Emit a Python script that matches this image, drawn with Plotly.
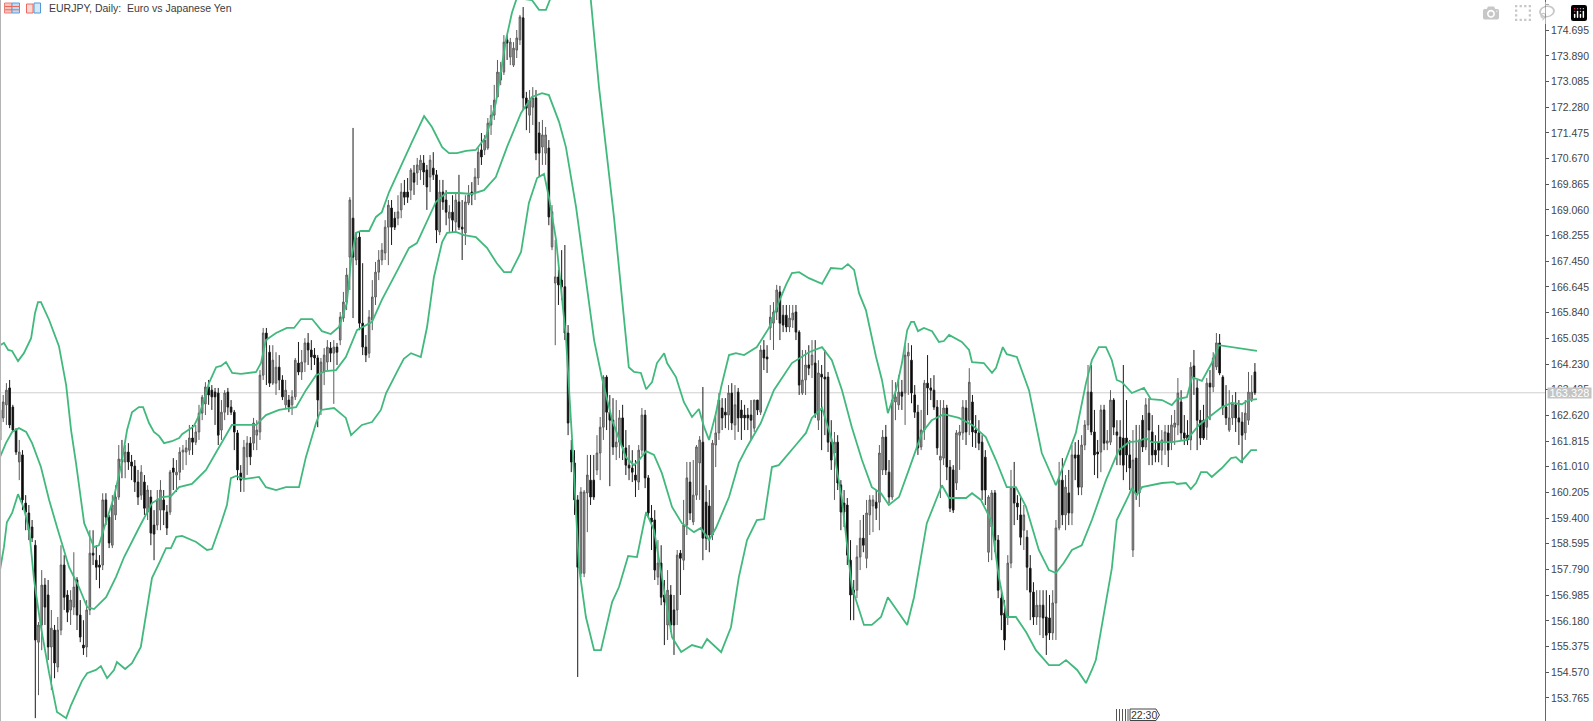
import plotly.graph_objects as go

# Chart geometry of the terminal window
WIDTH, HEIGHT = 1593, 721
PLOT_W = 1545
BAR_PITCH = 0.98  # spacing of the daily bars on the time axis

title_text = "EURJPY, Daily:\u00a0\u00a0Euro vs Japanese Yen"
last_price = 163.328
time_label = "22:30"

tick_labels = ["175.500", "174.695", "173.890", "173.085", "172.280", "171.475", "170.670",
               "169.865", "169.060", "168.255", "167.450", "166.645", "165.840", "165.035",
               "164.230", "163.425", "162.620", "161.815", "161.010", "160.205", "159.400",
               "158.595", "157.790", "156.985", "156.180", "155.375", "154.570", "153.765"]

# Daily candles: (open, high, low, close)
bars_a = [
    (162.79,162.95,161.69,161.85),(162.54,163.26,162.41,163.04),(162.95,163.63,162.32,163.41),(163.48,163.73,162.22,162.32),
    (162.88,162.95,162.10,162.16),(162.16,162.22,161.38,161.47),(161.16,161.85,160.59,161.47),(161.38,161.53,159.65,159.97),
    (159.87,160.12,159.02,159.59),(159.56,159.81,158.71,159.02),(159.12,159.34,158.65,158.78),(158.55,158.71,153.13,155.58),
    (155.51,156.14,153.85,156.05),(156.05,157.77,155.26,157.30),(157.30,157.52,156.05,156.61),(156.99,157.46,154.95,155.36),
    (155.36,156.52,154.01,155.95),(155.89,156.05,154.38,154.86),(154.73,156.30,154.57,155.89),(155.89,158.55,155.73,157.93),
    (157.93,158.24,156.52,156.92),(156.99,157.14,156.14,156.45),(156.52,157.14,156.05,156.83),(156.61,158.33,156.36,157.24),
    (157.46,157.55,155.89,156.36),(156.36,156.83,155.51,155.67),(155.42,156.20,155.11,155.33),(155.36,156.83,155.04,156.52),
    (156.52,159.02,156.36,158.30),(158.30,159.02,157.93,158.24),(158.08,158.55,157.46,157.86),(157.93,158.24,157.20,157.86),
    (157.93,160.18,157.77,159.97),(159.97,160.18,159.18,159.43),(159.43,159.50,158.46,158.62),(158.55,160.12,158.46,159.81),
    (159.50,160.43,159.34,160.06),(160.06,161.69,159.97,161.25),(161.25,161.85,160.65,161.16),(161.16,161.69,160.65,161.47),
    (161.47,161.75,160.91,161.16),(161.16,161.38,160.59,161.03),(161.03,161.22,160.22,160.53),(160.53,160.91,159.81,160.06),
    (160.12,161.06,159.97,160.84),(160.53,160.75,159.50,159.71),(159.59,160.43,159.34,160.28),(160.06,160.28,158.55,158.93),
    (159.18,159.65,158.08,158.90),(159.18,160.28,159.02,159.97),(159.65,160.59,159.02,160.28),(159.97,160.28,159.18,159.65),
    (159.59,159.81,158.87,159.09),(159.59,160.91,159.50,160.84),(160.97,161.28,160.28,160.84),(160.75,161.22,160.22,160.84),
    (160.84,161.62,160.59,161.47),(161.47,161.69,160.91,161.53),(161.47,161.85,161.06,161.60),(161.53,162.32,161.38,161.91),
    (161.91,162.32,161.38,161.78),(161.78,162.32,161.69,162.10),(162.10,162.95,161.85,162.69),(162.69,163.26,162.47,163.19),
    (162.98,163.66,162.63,163.51),(163.51,163.73,162.95,163.26),(163.41,163.57,162.79,163.20),(163.35,163.48,162.32,163.20),
    (163.32,163.48,161.69,162.00),(162.16,163.10,161.85,162.72),(162.72,163.41,162.47,163.32),(163.35,163.48,162.63,162.88),
    (162.88,163.10,162.63,162.72),(162.72,162.79,161.53,162.10),(162.07,162.16,160.59,160.91),(160.81,161.06,160.22,160.59),
    (160.65,161.85,160.22,161.62),(161.32,161.97,160.75,161.75),(161.75,161.94,161.06,161.32),(161.75,162.54,161.53,162.38),
    (162.00,162.47,161.53,162.16),(162.10,164.04,161.85,163.88),(163.88,165.36,163.73,165.20),(165.20,165.36,163.57,164.98),
    (164.60,164.82,163.51,163.63),(163.63,164.82,163.57,164.35),(163.63,164.60,163.26,164.13),(164.13,164.51,163.41,163.73),
    (163.73,163.88,163.10,163.20),(162.95,163.73,162.85,163.41),(163.10,163.26,162.72,162.88),(162.95,163.41,162.63,163.20),
    (163.20,164.42,163.10,164.35),(164.26,164.92,163.88,163.98),(163.98,164.67,163.73,164.29),(164.29,165.04,163.98,164.89),
    (164.89,165.20,164.20,164.67),(164.67,164.98,164.04,164.45),(164.51,164.73,164.20,164.42),(164.42,164.51,162.25,163.10),
]
bars_b = [
    (162.79,164.42,162.63,164.29),(163.98,164.73,163.57,164.51),(164.29,164.98,164.04,164.76),(164.73,164.92,164.29,164.57),
    (164.57,164.98,162.98,164.76),(164.76,164.89,164.20,164.60),(164.98,165.86,164.82,165.70),(165.67,166.49,165.55,166.17),
    (166.17,167.24,165.92,167.02),(167.58,169.46,166.55,169.37),(168.80,171.63,165.67,167.58),(167.49,168.37,167.33,168.18),
    (168.21,168.37,165.29,165.51),(165.51,167.39,164.51,164.76),(164.76,165.14,164.29,164.51),(164.57,165.92,164.42,165.70),
    (165.61,166.86,165.29,166.33),(166.33,167.43,166.08,167.11),(167.11,167.80,166.86,167.49),(167.49,168.02,167.33,167.80),
    (167.71,168.74,167.49,168.52),(168.52,169.37,167.33,169.21),(169.12,169.37,167.96,168.52),(168.80,169.00,168.43,168.52),
    (168.80,169.52,168.58,169.00),(169.06,169.90,168.80,169.62),(169.62,170.00,169.21,169.46),(169.62,170.06,169.28,169.46),
    (169.68,170.37,169.37,170.31),(170.22,170.47,169.53,169.93),(170.22,170.69,169.84,170.47),(170.31,170.78,170.00,170.62),
    (170.53,170.78,169.84,170.25),(170.31,170.47,169.06,169.78),(170.09,170.78,169.62,170.62),(170.37,170.87,170.00,170.16),
    (170.16,170.31,168.02,168.43),(168.37,170.00,168.27,169.62),(169.62,170.00,169.06,169.31),(169.37,169.68,168.58,168.99),
    (168.80,169.21,168.37,168.99),(168.99,169.52,168.37,168.74),(168.68,169.59,168.37,169.37),(169.31,170.16,168.43,168.52),
    (168.52,169.37,167.49,168.46),(168.34,169.52,167.96,169.31),(169.28,169.84,169.21,169.53),(169.62,169.93,169.21,169.53),
    (169.59,170.37,169.37,170.09),(170.06,171.00,169.84,170.87),(170.94,171.47,170.47,170.72),(170.94,171.41,170.78,171.25),
    (171.00,171.94,170.94,171.78),(171.72,172.35,171.41,172.03),(172.03,172.98,171.88,172.50),(172.60,173.76,172.60,173.38),
    (173.13,173.70,172.97,173.38),(173.38,174.54,173.29,174.32),(174.39,174.54,173.76,174.29),(173.85,174.45,173.60,174.32),
    (173.60,174.32,173.54,174.13),(174.07,174.70,173.82,174.45),(174.39,175.17,174.23,175.11),(175.08,175.42,172.19,172.57),
    (172.57,172.76,171.56,172.25),(172.03,172.82,171.47,172.50),(172.28,172.91,171.72,172.57),(172.57,172.82,170.62,170.84),
    (171.47,171.82,170.09,170.84),(171.03,171.88,170.47,171.41),(170.84,171.66,170.47,171.41),(171.00,171.25,168.58,168.84),
    (167.90,169.21,167.80,169.00),(166.77,168.12,164.82,166.96),(166.96,167.18,166.08,166.71),(166.86,167.80,166.24,166.65),
    (166.65,167.96,164.98,165.20),(165.20,165.45,162.00,162.38),(161.53,161.85,160.84,161.16),(161.13,161.53,159.50,159.97),
    (159.97,160.12,154.42,157.86),(157.67,160.37,157.55,160.22),(157.67,160.28,157.55,160.22),(160.19,161.38,158.96,160.75),
    (160.59,161.38,159.81,160.06),(160.59,161.38,159.97,160.06),(160.91,162.00,160.75,161.44),(161.44,162.57,160.59,162.25),
    (162.25,163.88,161.85,163.82),(163.82,163.88,162.16,162.72),(162.72,163.26,160.40,162.47),(162.47,163.16,161.38,161.63),
    (161.63,163.10,161.22,161.78),(161.78,162.79,161.28,162.54),(162.54,162.95,161.22,161.63),(161.60,162.16,160.75,161.06),
]
bars_c = [
    (161.06,161.69,160.59,160.97),(160.97,161.53,160.53,160.84),(160.75,161.22,160.06,160.59),(160.53,161.69,160.28,161.53),
    (161.53,162.85,161.38,162.63),(162.63,162.79,160.34,160.66),(160.66,160.75,159.40,159.56),(159.40,159.81,158.40,159.28),
    (159.34,159.65,157.46,157.77),(157.55,158.71,157.30,157.99),(157.99,158.55,156.67,156.92),(156.99,157.46,155.42,156.77),
    (156.05,157.77,155.58,157.14),(156.99,157.30,155.83,156.05),(156.52,156.99,155.11,156.05),(156.52,158.40,156.05,158.24),
    (158.30,158.40,156.99,158.14),(158.08,159.97,157.77,159.18),(159.18,161.16,158.87,160.66),(160.53,161.16,159.34,159.56),
    (159.28,161.22,159.18,160.12),(160.12,161.69,159.97,161.63),(161.13,161.97,159.97,161.85),(161.78,163.51,158.08,158.77),
    (159.90,160.43,158.40,158.77),(159.78,160.28,158.33,158.87),(158.87,161.85,158.71,161.75),(161.69,162.72,161.00,162.07),
    (162.07,163.32,161.85,163.10),(162.85,163.16,162.16,162.54),(162.72,163.16,162.22,162.63),(162.63,163.57,162.16,163.32),
    (163.32,163.63,162.16,162.38),(162.32,163.57,161.85,162.95),(163.35,163.48,162.10,162.54),(162.79,163.10,161.85,162.54),
    (162.63,162.95,162.16,162.54),(162.63,162.85,162.16,162.54),(162.63,163.10,161.85,162.47),(162.22,163.10,162.10,163.10),
    (163.10,163.10,162.63,162.79),(162.72,164.82,162.63,164.67),(164.67,164.98,164.04,164.42),(164.45,164.82,163.95,164.39),
    (165.36,166.08,164.98,165.70),(165.51,166.17,164.67,165.86),(165.86,166.71,165.61,166.55),(166.49,166.68,164.98,165.51),
    (165.76,166.08,165.23,165.45),(165.76,166.08,165.23,165.39),(165.39,166.08,165.23,165.67),(165.61,166.08,165.36,165.83),
    (165.86,166.08,164.98,165.23),(165.23,165.29,163.26,163.57),(163.32,164.67,163.26,163.73),(163.73,164.67,163.26,164.20),
    (164.20,164.82,163.88,164.10),(164.20,164.98,163.79,164.51),(164.26,164.98,162.54,162.69),(162.47,164.35,162.16,163.95),
    (163.91,164.20,161.53,163.82),(163.82,164.67,162.00,163.76),(163.82,163.98,161.47,161.78),(161.78,162.47,160.91,161.22),
    (161.44,162.10,159.97,161.78),(161.78,162.00,160.28,160.50),(160.44,160.59,159.02,159.59),(159.87,160.28,159.12,159.59),
    (159.81,160.03,157.93,158.24),(158.08,158.71,156.20,156.99),(157.14,157.46,156.20,156.99),(157.14,158.55,156.89,158.18),
    (158.18,159.34,157.77,158.77),(158.77,159.50,158.33,158.55),(158.14,159.97,157.83,159.56),(159.50,160.12,158.87,159.97),
    (159.78,160.12,158.96,159.97),(159.90,160.28,159.34,159.71),(159.90,161.69,159.02,161.44),(160.91,162.16,160.75,161.94),
    (161.94,162.32,160.75,160.91),(160.84,161.22,159.87,160.06),(160.06,163.73,159.97,163.10),(163.04,163.66,162.47,163.20),
    (162.95,163.88,162.79,163.35),(163.35,163.73,162.79,163.22),(163.32,164.82,162.32,164.51),(164.48,164.89,163.26,164.60),
    (164.35,164.82,163.00,163.32),(163.26,163.57,162.54,162.72),(162.72,162.95,161.38,161.60),(161.63,162.79,161.53,162.16),
    (162.16,163.73,161.85,163.63),(163.63,164.51,162.63,163.48),(163.48,163.79,163.10,163.41),(163.41,163.88,162.79,162.88),
]
bars_d = [
    (162.88,163.10,161.38,161.60),(161.22,163.10,160.03,161.34),(161.28,163.10,161.06,162.85),(162.85,162.95,160.59,161.00),
    (161.00,161.22,159.59,159.71),(160.91,161.06,159.56,159.65),(160.50,162.16,160.28,162.07),(162.00,162.32,160.91,162.10),
    (162.07,163.10,161.85,162.88),(162.85,163.10,161.69,162.10),(162.47,164.10,162.00,163.66),(163.04,163.26,161.63,162.10),
    (162.16,162.63,161.60,162.07),(162.07,162.47,161.53,161.75),(161.78,162.00,159.97,160.28),(161.31,161.53,159.81,160.28),
    (158.33,160.12,158.02,160.06),(159.12,160.28,158.08,160.19),(160.19,160.28,158.33,158.71),(158.71,158.87,156.89,157.14),
    (156.89,157.14,155.89,156.36),(156.42,156.83,155.26,155.58),(156.30,158.24,156.05,157.99),(157.99,160.91,157.83,160.34),
    (160.34,161.16,159.18,159.87),(159.87,160.12,159.34,159.75),(159.50,160.06,158.55,158.80),(159.02,159.81,158.40,159.50),
    (158.80,159.02,157.14,157.86),(157.83,158.24,156.20,157.08),(157.08,157.39,156.05,156.30),(156.30,157.14,156.05,156.67),
    (156.30,157.14,155.73,156.67),(156.67,157.14,155.64,156.27),(156.30,157.14,155.11,155.73),(156.27,156.99,155.58,155.80),
    (155.80,157.14,155.58,156.74),(156.74,159.34,155.58,159.09),(159.09,161.16,159.02,160.59),(160.59,161.28,159.18,159.50),
    (159.50,160.75,159.02,160.37),(160.19,160.91,159.18,159.56),(159.56,161.69,159.18,161.38),(161.38,161.78,160.59,161.28),
    (161.38,161.85,160.12,160.37),(160.37,162.00,160.12,161.69),(161.69,162.47,161.53,162.32),(162.32,164.20,162.16,163.35),
    (163.35,164.20,162.00,162.10),(162.10,162.79,160.75,161.38),(161.47,161.85,160.65,161.41),(161.47,162.95,160.84,162.79),
    (162.79,162.95,161.53,161.75),(161.75,162.16,161.53,161.82),(161.78,163.41,161.69,163.10),(163.10,163.16,162.00,162.25),
    (162.10,162.47,161.06,162.00),(161.94,162.47,161.06,161.38),(161.91,164.20,160.59,161.06),(161.91,163.10,160.84,161.38),
    (161.38,161.85,160.28,160.97),(158.40,162.16,158.18,161.22),(161.28,162.32,159.97,160.19),(160.19,162.32,159.75,161.85),
    (162.47,162.63,161.47,161.63),(161.63,163.16,161.53,162.95),(162.69,163.16,161.06,162.16),(162.10,162.63,161.06,161.38),
    (161.53,162.00,161.15,161.38),(161.78,162.32,161.15,161.53),(161.53,162.16,161.06,161.85),(161.78,162.32,161.38,162.10),
    (162.07,162.32,161.00,161.53),(161.78,162.63,161.53,162.32),(162.25,162.79,161.69,162.38),(162.32,163.79,162.00,163.32),
    (163.04,163.41,161.85,162.07),(162.07,162.63,161.69,161.91),(162.00,162.47,161.69,161.85),(161.85,164.29,161.53,164.13),
    (164.17,164.67,163.26,163.82),(163.48,163.73,161.53,162.47),(162.47,162.79,161.69,161.91),(162.47,162.95,161.85,161.91),
    (162.25,163.79,161.85,163.63),(163.63,164.04,162.47,163.51),(163.51,164.60,163.35,164.42),(164.14,165.20,164.04,164.89),
    (164.89,165.17,163.88,163.95),(163.82,163.88,162.63,162.88),(162.88,163.57,162.32,162.54),(162.16,163.41,162.10,162.54),
    (162.54,163.26,162.32,163.00),(162.95,163.35,162.10,162.54),(162.54,163.10,161.69,162.41),(162.41,162.72,161.12,162.00),
    (162.07,163.10,161.85,162.69),(162.47,163.98,162.32,163.35),(163.10,163.88,163.04,163.35),(163.98,164.26,163.26,163.328),
]

# Bollinger bands, sampled along the time axis
upper_t = [0,1.2,2.5,3.7,5.5,7.3,9.5,10.7,11.6,12.5,15,18,20.2,21.7,23.2,25.7,28.7,30.2,31.8,34.8,37,38.8,40.3,42.4,43.7,45.5,47,48.6,50.1,52.5,54.7,55.6,59.2,60.8,62.3,63.8,66,67.5,69,70.9,73.6,78.2,79.7,81.2,84.3,87.6,89.8,91.9,95.3,98.3,101,103.5,105.9,107.2,108.7,110.2,112.7,114.8,116.6,118.8,125.8,129.5,131.9,135,137.1,139.5,142.3,145.3,148.4,151.4,154.5,156.3,157.8,162.4,164.6,166.7,167.9,170.7,175.3,178.3,180.4,182.9,187.5,191.1,192,193.6,195.7,197.3,199.1,200.6,202.8,203.7,206.4,208.8,211.3,213.4,215,216.5,218.6,220.2,222.6,224.7,227.2,231.1,234.8,237.2,240,241.8,244,247,251,253.7,257.1,258.9,260.8,262.3,264.4,267.5,269.3,271.1,273.6,275.4,277,278.2,279.1,280.3,282.1,284.6,286.7,288.2,289.8,293.7,295.9,296.8,300.4,302.9,304.1,306.2,307.4,310.5,314.2,318.1,322.4,325.4,328.5,331.6,333.4,335.5,337.7,339.5,341,342.6,345.6,349.3,351.4,354.8,357.8,359.4,362.4,364,367,370,372.2,383.8]
upper_p = [164.82,164.89,164.67,164.64,164.32,164.57,165.04,165.83,166.17,166.17,165.61,164.79,163.57,162.16,161.13,159.24,158.49,158.55,159.09,160.06,161.06,162.16,162.72,162.88,162.88,162.38,162.10,161.97,161.75,161.81,161.91,162.03,162.28,162.63,163.10,163.63,164.13,164.17,164.29,163.95,163.92,163.98,164.26,164.98,165.20,165.36,165.36,165.64,165.64,165.26,165.17,165.39,166.14,167.49,168.34,168.40,168.40,168.84,168.99,169.62,171.19,172.00,171.66,171.03,170.84,170.84,170.91,170.94,171.35,172.41,174.39,175.23,175.70,175.64,175.33,175.33,175.64,176.42,176.89,176.27,175.64,172.91,168.81,164.98,164.13,163.98,163.95,163.44,163.66,164.26,164.57,164.26,163.82,163.04,162.57,162.82,162.25,161.85,162.69,163.51,164.51,164.57,164.51,164.76,165.36,166.02,166.71,167.08,167.11,166.92,166.74,167.24,167.21,167.36,167.18,166.45,165.92,164.45,163.73,162.69,163.41,164.26,165.29,165.55,165.55,165.26,165.36,165.26,164.92,164.95,165.14,164.92,164.67,164.29,164.26,163.95,164.10,164.76,164.54,164.45,163.41,161.44,160.43,161.22,162.07,163.63,164.35,164.76,164.76,164.35,163.73,163.66,163.32,163.48,163.13,163.10,162.94,163.13,163.19,163.82,163.70,164.26,164.82,164.64]

middle_t = [0,1.8,3.7,5.8,8,9.8,12.5,15,17.4,21.1,24.1,26.6,28.7,32.4,35.4,37.9,42.4,46.4,49.5,52.2,54.7,58.6,62.9,66.9,70.8,78.2,81.2,85.2,90.4,93.4,96.5,99.5,102.6,105.6,109,113.6,116.6,120.9,124.9,127.3,130.4,133.1,136.2,140.1,144.1,147.8,151.4,154.8,159.1,162.4,165.5,167.6,170.7,172.8,175.9,178.9,181.4,183.8,186.9,191.1,193.6,195.1,197.3,199.7,202.1,205.2,208.2,211.9,214,216.5,218.6,222.6,225.6,228.1,232.3,236.3,241.8,247,251,254,257.1,260.1,263.2,266.2,269,271.4,274.5,277.5,281.5,284.5,288.2,292.8,296.8,301,304.1,307.4,310.2,313.3,317.2,320.3,322.4,324.8,327.3,330.3,333.4,337.7,341.6,344.7,347.7,349.9,351.7,357.8,362.4,366.1,370,373.1,376.1,379.2,381.3,383.8]
middle_p = [161.31,161.75,162.10,162.22,162.10,161.75,161.00,159.97,159.12,157.86,157.24,156.61,156.55,156.92,157.55,158.18,159.09,159.87,160.06,160.09,160.37,160.47,160.91,161.63,162.32,162.32,162.63,162.79,162.88,163.41,163.88,164.01,164.04,164.45,165.29,165.55,166.24,167.08,167.87,168.02,168.74,169.31,169.59,169.59,169.56,169.68,170.09,171.03,172.10,172.60,172.72,172.66,171.82,171.03,169.15,166.86,164.98,163.79,162.47,161.31,161.06,161.22,161.50,161.38,160.81,159.75,159.24,158.96,159.09,158.71,159.09,160.06,161.13,161.63,162.38,163.41,164.26,164.60,164.76,164.35,163.41,162.25,161.22,160.37,160.18,159.81,160.06,160.91,162.07,162.47,162.66,162.54,162.32,161.94,161.22,160.37,160.37,159.75,158.40,157.77,157.68,157.99,158.40,158.55,159.34,160.59,161.53,161.78,161.81,161.91,161.78,161.78,161.85,162.32,162.63,162.88,163.01,162.97,163.10,163.13]

lower_t = [0,1.2,2.1,3.7,5.5,7.3,8.9,10.4,12.5,15,17.4,20.2,21.7,25,26.6,29.3,30.8,32.7,34.8,35.7,38.2,40.3,43,44.6,46.4,48.6,50.7,52.2,53.8,55.6,59.9,63.2,64.7,67.5,69.3,70.5,72.1,74.5,79.1,81.2,84.3,87.3,91.3,93.4,96.5,98,102,105.6,107.2,110.5,113.6,116.3,117.9,121.8,123.3,125.5,128.5,130.4,132.5,135,136.5,139.2,141.7,145.3,148.7,151.7,153.9,156,159.1,161.5,164,166.1,167.6,169.8,172.8,174.7,176.8,178.9,181.4,183.5,186.9,189,191.8,194.5,197.3,199.7,202.8,205.2,208,211.3,214.3,215.9,220.2,223.2,225.6,228.1,231.1,233.3,235.7,237.8,243,246.1,247.9,251,254,257.1,260.1,263.8,266.2,269,271.1,277,279.1,283,287.6,289.8,295,296.8,299.5,302.6,305,307.4,310.2,313.3,316.3,320.3,323.4,325.5,328.9,331.6,333.4,334.6,339.5,341,344.7,345.6,347.1,348.7,354.8,358.4,359.4,362.1,363.6,365.2,366.7,368.5,370,373.1,375.9,377.4,378.9,382,383.8]
lower_p = [157.77,158.49,159.27,159.56,160.15,159.71,159.02,157.46,155.98,154.54,153.32,153.13,153.54,154.29,154.54,154.64,154.76,154.38,154.64,154.89,154.67,154.85,155.36,156.42,157.52,157.99,158.46,158.46,158.81,158.84,158.65,158.40,158.43,159.24,159.81,160.65,160.72,160.62,160.69,160.37,160.28,160.37,160.37,161.31,162.38,162.79,162.85,162.54,162.00,162.32,162.41,162.79,163.32,164.10,164.39,164.57,164.45,165.39,166.96,168.05,168.34,168.37,168.27,168.21,167.87,167.39,167.11,167.11,167.74,169.28,170.06,170.19,169.46,168.12,165.07,161.85,157.86,156.30,155.26,155.26,156.77,157.24,158.21,158.18,159.59,159.02,157.14,155.67,155.20,155.42,155.33,155.61,155.20,155.98,157.55,158.71,159.34,159.37,161.00,161.06,161.69,162.07,162.54,162.85,161.85,159.97,157.24,156.05,156.05,156.30,156.92,156.05,156.92,159.24,160.43,160.03,160.03,160.18,159.97,159.34,157.55,156.30,156.30,155.83,155.26,154.79,154.79,154.95,154.64,154.23,154.64,154.95,157.83,159.34,160.12,160.34,160.12,160.37,160.50,160.53,160.47,160.50,160.31,160.50,160.84,160.84,160.69,160.97,161.28,161.31,161.16,161.53,161.53]


def px(x):
    return x / PLOT_W


def py(y):
    return 1 - y / HEIGHT


bars = bars_a + bars_b + bars_c + bars_d
opens, highs, lows, closes = zip(*bars)
bar_t = [i * BAR_PITCH for i in range(len(bars))]

fig = go.Figure()

fig.add_trace(go.Candlestick(
    x=bar_t, open=opens, high=highs, low=lows, close=closes,
    increasing=dict(line=dict(color="#5c5c5c", width=1), fillcolor="#9c9c9c"),
    decreasing=dict(line=dict(color="#1a1a1a", width=1), fillcolor="#000000"),
    hoverinfo="skip", showlegend=False))

for t, p in [(upper_t, upper_p), (middle_t, middle_p), (lower_t, lower_p)]:
    fig.add_trace(go.Scatter(x=t, y=p, mode="lines", hoverinfo="skip", showlegend=False,
                             line=dict(color="#41b97d", width=1.8)))

shapes = [
    # last price line
    dict(type="line", xref="paper", yref="y", x0=0, x1=1, y0=last_price, y1=last_price,
         line=dict(color="#cfcfcf", width=1), layer="below"),
    # left edge of the window
    dict(type="line", xref="paper", yref="paper", x0=0, x1=0, y0=0, y1=1,
         line=dict(color="#b4b4b4", width=2)),
    # title bar icons
    dict(type="rect", xref="paper", yref="paper", x0=px(4.5), x1=px(12), y0=py(13), y1=py(3),
         line=dict(color="#ea8078", width=1), fillcolor="#f8c4be"),
    dict(type="rect", xref="paper", yref="paper", x0=px(12), x1=px(19.5), y0=py(13), y1=py(3),
         line=dict(color="#5aa0d8", width=1), fillcolor="#bcdcf4"),
    dict(type="line", xref="paper", yref="paper", x0=px(5), x1=px(19), y0=py(6.5), y1=py(6.5),
         line=dict(color="#e8685c", width=1)),
    dict(type="line", xref="paper", yref="paper", x0=px(5), x1=px(19), y0=py(9.8), y1=py(9.8),
         line=dict(color="#e8685c", width=1)),
    dict(type="rect", xref="paper", yref="paper", x0=px(26.5), x1=px(33), y0=py(13), y1=py(4),
         line=dict(color="#ea6a60", width=1), fillcolor="#fbd8d4"),
    dict(type="rect", xref="paper", yref="paper", x0=px(34), x1=px(40.5), y0=py(13), y1=py(3),
         line=dict(color="#4f9ad6", width=1), fillcolor="#d4e8f8"),
    # time marker at the bottom
    dict(type="path", xref="paper", yref="paper",
         path=f"M {px(1130)} {py(709)} L {px(1156)} {py(709)} L {px(1159.5)} {py(715)} "
              f"L {px(1156)} {py(720.5)} L {px(1130)} {py(720.5)} Z",
         line=dict(color="#444444", width=1), fillcolor="#ffffff"),
]
for sx in [1116.5, 1119.5, 1122.5, 1125.5, 1128]:
    shapes.append(dict(type="line", xref="paper", yref="paper", x0=px(sx), x1=px(sx),
                       y0=py(709), y1=py(721), line=dict(color="#555555", width=1)))

annotations = [
    dict(text=title_text, xref="paper", yref="paper", x=px(46.5), y=py(8), xanchor="left",
         yanchor="middle", showarrow=False, font=dict(family="Liberation Sans", size=10.5, color="#3c3c3c")),
    dict(text=f"{last_price:.3f}", xref="paper", yref="y", x=px(1547), y=last_price, xanchor="left",
         yanchor="middle", showarrow=False, width=43, height=10, bgcolor="#c4c4c4", borderpad=0,
         font=dict(family="Liberation Sans", size=11, color="#ffffff")),
    dict(text=time_label, xref="paper", yref="paper", x=px(1143.5), y=py(715), xanchor="center",
         yanchor="middle", showarrow=False, font=dict(family="Liberation Sans", size=10.5, color="#333333")),
]

fig.update_layout(
    width=WIDTH, height=HEIGHT,
    margin=dict(l=0, r=WIDTH - PLOT_W, t=0, b=0),
    paper_bgcolor="#ffffff", plot_bgcolor="#ffffff",
    shapes=shapes, annotations=annotations, showlegend=False,
    xaxis=dict(range=[0, PLOT_W / 3.275], rangeslider=dict(visible=False), showgrid=False,
               zeroline=False, showticklabels=False, ticks="", showline=False, fixedrange=True),
    yaxis=dict(range=[153.04, 175.64], side="right", showgrid=False, zeroline=False,
               tickmode="array", tickvals=[float(t) for t in tick_labels], ticktext=tick_labels,
               ticks="outside", ticklen=3, tickwidth=1, tickcolor="#555555",
               showline=True, linecolor="#666666", linewidth=1, fixedrange=True,
               tickfont=dict(family="Liberation Sans", size=10.5, color="#444444")),
)

fig.write_html("out.html", post_script="document.body.style.margin='0';document.body.style.overflow='hidden';")
